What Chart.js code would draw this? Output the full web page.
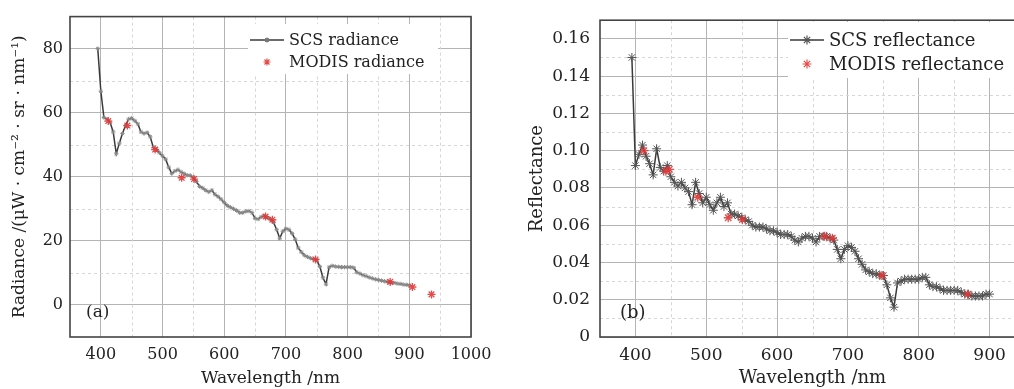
<!DOCTYPE html>
<html>
<head>
<meta charset="utf-8">
<script src="https://cdn.jsdelivr.net/npm/chart.js@4/dist/chart.umd.min.js"></script>
<style>
  html, body { margin: 0; padding: 0; background: #fff; overflow: hidden; width: 1014px; height: 389px; }
  #wrapA { position: absolute; left: 0; top: 0; width: 500px; height: 389px; }
  #wrapB { position: absolute; left: 510px; top: 0; width: 540px; height: 389px; }
</style>
</head>
<body>
<div id="wrapA"><canvas id="chartA" width="500" height="389"></canvas></div>
<div id="wrapB"><canvas id="chartB" width="540" height="389"></canvas></div>
<script>
// SCS spectra
const wavelengths = [
  395, 400, 405, 410, 415, 420, 425, 430, 435, 440,
  445, 450, 455, 460, 465, 470, 475, 480, 485, 490,
  495, 500, 505, 510, 515, 520, 525, 530, 535, 540,
  545, 550, 555, 560, 565, 570, 575, 580, 585, 590,
  595, 600, 605, 610, 615, 620, 625, 630, 635, 640,
  645, 650, 655, 660, 665, 670, 675, 680, 685, 690,
  695, 700, 705, 710, 715, 720, 725, 730, 735, 740,
  745, 750, 755, 760, 765, 770, 775, 780, 785, 790,
  795, 800, 805, 810, 815, 820, 825, 830, 835, 840,
  845, 850, 855, 860, 865, 870, 875, 880, 885, 890,
  895, 900
];
const scsRadiance = [
  80.0, 66.7, 58.5, 58.0, 57.0, 54.0, 47.2, 50.5, 53.5, 56.0,
  58.0, 58.3, 57.5, 56.5, 54.0, 53.5, 53.8, 52.5, 49.2, 48.6,
  47.5, 46.5, 45.5, 43.0, 41.0, 41.8, 42.2, 41.5, 41.0, 40.5,
  40.4, 39.8, 38.5, 37.0, 36.5, 35.8, 35.3, 35.8, 34.5, 33.8,
  33.0, 32.0, 31.0, 30.5, 30.0, 29.5, 28.8, 28.8, 29.2, 29.3,
  28.8, 27.0, 26.8, 27.5, 27.8, 27.3, 26.8, 25.8, 23.5, 20.8,
  23.0, 23.8, 23.5, 22.3, 20.5, 17.8, 16.5, 15.5, 15.0, 14.6,
  14.3, 14.0, 12.0, 8.5, 6.5, 11.8, 12.2, 12.0, 11.9, 11.8,
  11.8, 11.8, 11.8, 11.6, 10.2, 9.8, 9.3, 9.0, 8.6, 8.3,
  8.0, 7.8, 7.6, 7.4, 7.2, 7.0, 6.9, 6.7, 6.6, 6.4,
  6.3, 6.2
];
const scsReflectance = [
  0.150, 0.092, 0.098, 0.103, 0.097, 0.093, 0.087, 0.101, 0.091, 0.089,
  0.092, 0.086, 0.083, 0.081, 0.083, 0.080, 0.078, 0.071, 0.083, 0.077,
  0.072, 0.075, 0.071, 0.068, 0.072, 0.075, 0.070, 0.072, 0.066, 0.066,
  0.065, 0.064, 0.063, 0.062, 0.060, 0.059, 0.059, 0.059, 0.058, 0.057,
  0.057, 0.056, 0.055, 0.055, 0.055, 0.054, 0.052, 0.051, 0.053, 0.054,
  0.054, 0.053, 0.051, 0.054, 0.054, 0.054, 0.053, 0.052, 0.047, 0.042,
  0.047, 0.049, 0.048, 0.046, 0.042, 0.039, 0.036, 0.035, 0.034, 0.034,
  0.033, 0.033, 0.028, 0.021, 0.016, 0.029, 0.030, 0.031, 0.031, 0.031,
  0.031, 0.031, 0.032, 0.032, 0.028, 0.027, 0.027, 0.026, 0.025, 0.025,
  0.025, 0.025, 0.025, 0.024, 0.023, 0.023, 0.022, 0.022, 0.022, 0.022,
  0.023, 0.023
];

// MODIS band values
const modisRadianceBands = [412, 443, 488, 531, 551, 667, 678, 748, 869, 905, 936];
const modisRadiance = [57.4, 56.0, 48.5, 39.7, 39.3, 27.6, 26.6, 14.2, 7.2, 5.6, 3.3];
const modisReflectanceBands = [412, 443, 448, 488, 531, 551, 667, 678, 748, 869];
const modisReflectance = [0.100, 0.089, 0.090, 0.075, 0.064, 0.063, 0.054, 0.053, 0.033, 0.023];

// ticks
const xTicksA = [400, 500, 600, 700, 800, 900, 1000];
const xMinorA = [450, 550, 650, 750, 850, 950];
const yTicksA = [0, 20, 40, 60, 80];
const yMinorA = [10, 30, 50, 70];
const xTicksB = [400, 500, 600, 700, 800, 900];
const xMinorB = [450, 550, 650, 750, 850];
const yTicksB = [0, 0.02, 0.04, 0.06, 0.08, 0.10, 0.12, 0.14, 0.16];
const yMinorB = [0.01, 0.03, 0.05, 0.07, 0.09, 0.11, 0.13, 0.15];

const FONT = "'DejaVu Serif', 'Liberation Serif', serif";
const TEXT = '#222';
const LINE = '#3a3a3a';
const RED = 'rgba(225, 55, 55, 0.9)';

function pairs(xs, ys) {
  return xs.map((x, i) => ({ x: x, y: ys[i] }));
}

function drawStar(ctx, x, y, r, color, lw) {
  ctx.save();
  ctx.strokeStyle = color;
  ctx.lineWidth = lw;
  ctx.beginPath();
  for (let i = 0; i < 4; i++) {
    const a = i * Math.PI / 4;
    ctx.moveTo(x + Math.cos(a) * r, y + Math.sin(a) * r);
    ctx.lineTo(x - Math.cos(a) * r, y - Math.sin(a) * r);
  }
  ctx.stroke();
  ctx.restore();
}

// dashed minor grid
const minorGrid = {
  id: 'minorGrid',
  beforeDatasetsDraw(chart, args, opts) {
    const { ctx, chartArea: a, scales } = chart;
    ctx.save();
    ctx.strokeStyle = '#d6d6d6';
    ctx.lineWidth = 1;
    ctx.setLineDash([3, 3]);
    ctx.beginPath();
    (opts.x || []).forEach(v => {
      const px = Math.round(scales.x.getPixelForValue(v)) + 0.5;
      ctx.moveTo(px, a.top); ctx.lineTo(px, a.bottom);
    });
    (opts.y || []).forEach(v => {
      const py = Math.round(scales.y.getPixelForValue(v)) + 0.5;
      ctx.moveTo(a.left, py); ctx.lineTo(a.right, py);
    });
    ctx.stroke();
    ctx.restore();
  }
};

// legend box, panel letter, frame
const panelDeco = {
  id: 'panelDeco',
  afterDatasetsDraw(chart, args, opts) {
    const { ctx, chartArea: a } = chart;
    const lg = opts.legend;
    const bx = a.left + lg.dx, by = lg.top;
    ctx.save();
    ctx.fillStyle = '#fff';
    ctx.fillRect(bx, by, lg.w, lg.h);
    ctx.font = lg.size + 'px ' + FONT;
    ctx.fillStyle = TEXT;
    ctx.textBaseline = 'middle';
    lg.items.forEach((it, i) => {
      const y = lg.rowY + i * lg.rowGap;
      const sx = bx + 2 + lg.sym / 2;
      if (it.line) {
        ctx.strokeStyle = LINE;
        ctx.lineWidth = 1.5;
        ctx.beginPath();
        ctx.moveTo(bx + 2, y); ctx.lineTo(bx + 2 + lg.sym, y);
        ctx.stroke();
      }
      drawStar(ctx, sx, y, it.r, it.color, 1.2);
      ctx.fillStyle = TEXT;
      ctx.fillText(it.label, bx + lg.sym + 7, y + 1);
    });
    ctx.font = opts.letterSize + 'px ' + FONT;
    ctx.fillText(opts.letter, a.left + opts.letterDx, a.bottom - 24);
    ctx.restore();
  },
  afterDraw(chart) {
    const { ctx, chartArea: a } = chart;
    ctx.save();
    ctx.strokeStyle = '#444';
    ctx.lineWidth = 1.6;
    ctx.strokeRect(a.left, a.top, a.right - a.left, a.bottom - a.top);
    ctx.restore();
  }
};

function makeChart(id, cfg) {
  return new Chart(document.getElementById(id), {
    type: 'scatter',
    data: {
      datasets: [
        {
          label: cfg.scsLabel,
          data: pairs(wavelengths, cfg.scs),
          showLine: true,
          borderColor: LINE,
          borderWidth: 1.5,
          pointStyle: 'star',
          pointRadius: cfg.scsR,
          pointBorderColor: cfg.scsPointColor,
          pointBorderWidth: 1,
          order: 2
        },
        {
          label: cfg.modisLabel,
          data: pairs(cfg.modisBands, cfg.modis),
          showLine: false,
          pointStyle: 'star',
          pointRadius: cfg.modisR,
          pointBorderColor: RED,
          pointBackgroundColor: RED,
          pointBorderWidth: 1.3,
          order: 1
        }
      ]
    },
    options: {
      responsive: false,
      animation: false,
      layout: { padding: { top: cfg.padTop, right: cfg.padRight, left: 0, bottom: 0 } },
      plugins: {
        legend: { display: false },
        tooltip: { enabled: false },
        minorGrid: { x: cfg.xMinor, y: cfg.yMinor },
        panelDeco: { legend: cfg.legend, letter: cfg.letter, letterDx: cfg.letterDx, letterSize: cfg.letterSize }
      },
      scales: {
        x: {
          type: 'linear',
          min: cfg.xMin, max: cfg.xMax,
          afterBuildTicks: s => { s.ticks = cfg.xTicks.map(v => ({ value: v })); },
          afterFit: s => { s.height = 52; },
          grid: { color: '#b4b4b4', lineWidth: 1, drawTicks: false },
          border: { display: false },
          ticks: { font: { family: FONT, size: cfg.tickSize }, color: TEXT, padding: 8, maxRotation: 0, autoSkip: false, callback: v => String(v) },
          title: { display: true, text: 'Wavelength /nm', font: { family: FONT, size: cfg.titleSize }, color: TEXT, padding: { top: 0, bottom: 0 } }
        },
        y: {
          type: 'linear',
          min: cfg.yMin, max: cfg.yMax,
          afterBuildTicks: s => { s.ticks = cfg.yTicks.map(v => ({ value: v })); },
          afterFit: s => { s.width = cfg.yWidth; },
          grid: { color: '#b4b4b4', lineWidth: 1, drawTicks: false },
          border: { display: false },
          ticks: { font: { family: FONT, size: cfg.tickSize }, color: TEXT, padding: cfg.yTickPad, callback: cfg.yFmt },
          title: { display: true, text: cfg.yTitle, font: { family: FONT, size: cfg.titleSize }, color: TEXT, padding: { top: cfg.yTitlePad, bottom: 0 } }
        }
      }
    },
    plugins: [minorGrid, panelDeco]
  });
}

makeChart('chartA', {
  scsLabel: 'SCS radiance', modisLabel: 'MODIS radiance',
  scs: scsRadiance, modisBands: modisRadianceBands, modis: modisRadiance,
  scsR: 2.2, scsPointColor: '#8a8a8a', modisR: 4,
  xMin: 350, xMax: 1000, xTicks: xTicksA, xMinor: xMinorA,
  yMin: -10, yMax: 90, yTicks: yTicksA, yMinor: yMinorA,
  yFmt: v => String(v),
  yTitle: 'Radiance /(μW · cm⁻² · sr · nm⁻¹)',
  tickSize: 16, titleSize: 17,
  yWidth: 70, yTickPad: 7, yTitlePad: 9,
  padTop: 13, padRight: 29,
  letter: '(a)', letterDx: 16, letterSize: 17,
  legend: {
    dx: 178, top: 24, w: 190, h: 50, rowY: 40, rowGap: 22, sym: 34, size: 16,
    items: [
      { label: 'SCS radiance', line: true, color: '#777', r: 2.5 },
      { label: 'MODIS radiance', line: false, color: RED, r: 3.5 }
    ]
  }
});

makeChart('chartB', {
  scsLabel: 'SCS reflectance', modisLabel: 'MODIS reflectance',
  scs: scsReflectance, modisBands: modisReflectanceBands, modis: modisReflectance,
  scsR: 4.5, scsPointColor: '#555', modisR: 4.5,
  xMin: 350, xMax: 950, xTicks: xTicksB, xMinor: xMinorB,
  yMin: 0, yMax: 0.17, yTicks: yTicksB, yMinor: yMinorB,
  yFmt: v => (v === 0 ? '0' : v.toFixed(2)),
  yTitle: 'Reflectance',
  tickSize: 17, titleSize: 18,
  yWidth: 90, yTickPad: 10, yTitlePad: 17,
  padTop: 14, padRight: 25,
  letter: '(b)', letterDx: 20, letterSize: 18,
  legend: {
    dx: 188, top: 22, w: 260, h: 56, rowY: 40, rowGap: 24, sym: 34, size: 18,
    items: [
      { label: 'SCS reflectance', line: true, color: '#555', r: 4.5 },
      { label: 'MODIS reflectance', line: false, color: RED, r: 4.5 }
    ]
  }
});
</script>
</body>
</html>
